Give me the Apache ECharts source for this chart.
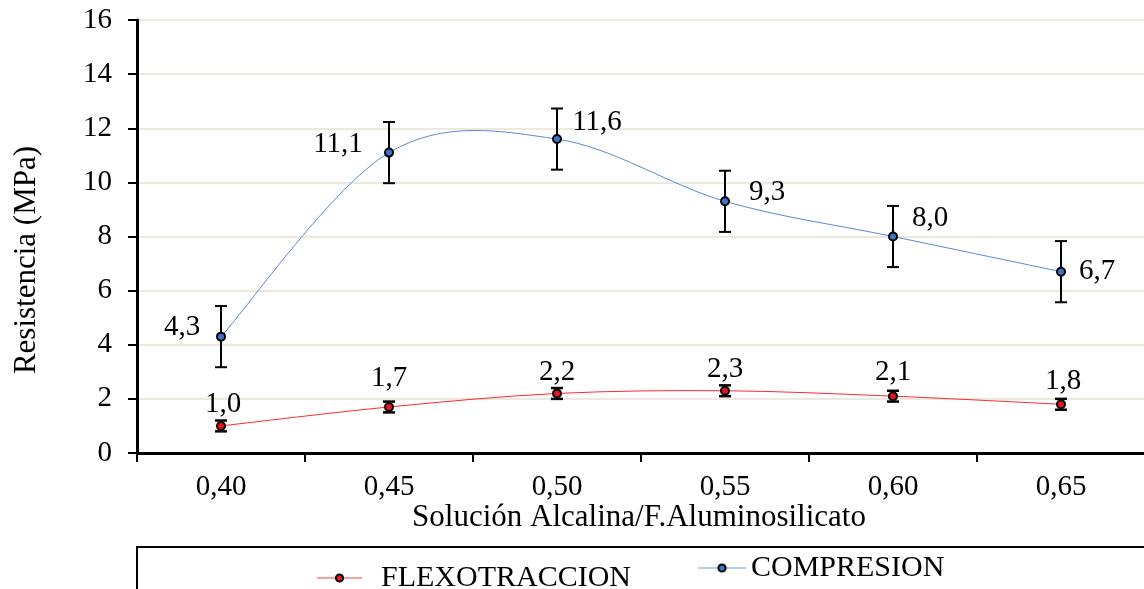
<!DOCTYPE html>
<html>
<head>
<meta charset="utf-8">
<title>Resistencia</title>
<script src="https://cdn.jsdelivr.net/npm/echarts@6/dist/echarts.min.js"></script>
<style>
  html, body { margin: 0; padding: 0; background: #fff; }
  #chart { width: 1144px; height: 589px; }
</style>
</head>
<body>
<div id="chart"></div>
<script>
// datos
var categorias = ['0,40', '0,45', '0,50', '0,55', '0,60', '0,65'];
var compresion = [4.3, 11.1, 11.6, 9.3, 8.0, 6.7];
var compresionErr = [1.13, 1.13, 1.13, 1.13, 1.13, 1.13];
var flexo = [1.0, 1.7, 2.2, 2.3, 2.1, 1.8];
var flexoErr = [0.2, 0.2, 0.2, 0.2, 0.2, 0.2];
var yTicks = [0, 2, 4, 6, 8, 10, 12, 14, 16];

// donde van las etiquetas (px respecto al punto)
var compLabelOffset = [[-39, -9], [-51, -8], [40, -17], [42, -9], [37, -18], [36, 0]];
var flexoLabelOffset = [[2, -22], [0, -29], [0, -21], [0, -21], [0, -24], [2, -23]];

var fuente = "'Liberation Serif', 'Times New Roman', serif";

function fmt(v) { return v.toFixed(1).replace('.', ','); }

function errorBars(vals, errs, lw, half) {
    return {
        type: 'custom',
        z: 1,
        silent: true,
        data: vals.map(function (v, i) { return [i, v, errs[i]]; }),
        encode: { x: 0, y: 1 },
        renderItem: function (params, api) {
            var i = api.value(0), v = api.value(1), e = api.value(2);
            var top = api.coord([i, v + e]);
            var bot = api.coord([i, v - e]);
            var st = { stroke: '#000', lineWidth: lw };
            return {
                type: 'group',
                children: [
                    { type: 'line', shape: { x1: top[0], y1: top[1], x2: bot[0], y2: bot[1] }, style: st },
                    { type: 'line', shape: { x1: top[0] - half, y1: top[1], x2: top[0] + half, y2: top[1] }, style: st },
                    { type: 'line', shape: { x1: bot[0] - half, y1: bot[1], x2: bot[0] + half, y2: bot[1] }, style: st }
                ]
            };
        }
    };
}

// curva suavizada tipo Excel (Catmull-Rom), un tramo por punto
function curva(vals, color) {
    return {
        type: 'custom',
        z: 2,
        silent: true,
        data: vals.map(function (v, i) { return [i, v]; }),
        encode: { x: 0, y: 1 },
        renderItem: function (params, api) {
            var i = params.dataIndex, n = vals.length;
            if (i >= n - 1) return null;
            var p0 = api.coord([Math.max(i - 1, 0), vals[Math.max(i - 1, 0)]]);
            var p1 = api.coord([i, vals[i]]);
            var p2 = api.coord([i + 1, vals[i + 1]]);
            var p3 = api.coord([Math.min(i + 2, n - 1), vals[Math.min(i + 2, n - 1)]]);
            return {
                type: 'bezierCurve',
                shape: {
                    x1: p1[0], y1: p1[1], x2: p2[0], y2: p2[1],
                    cpx1: p1[0] + (p2[0] - p0[0]) / 6, cpy1: p1[1] + (p2[1] - p0[1]) / 6,
                    cpx2: p2[0] - (p3[0] - p1[0]) / 6, cpy2: p2[1] - (p3[1] - p1[1]) / 6
                },
                style: { stroke: color, lineWidth: 1, fill: null }
            };
        }
    };
}

function etiquetas(vals, offs) {
    return vals.map(function (v, i) {
        return { value: v, label: { offset: offs[i] } };
    });
}

var chart = echarts.init(document.getElementById('chart'));

var option = {
    animation: false,
    backgroundColor: '#fff',
    textStyle: { fontFamily: fuente },
    grid: {
        left: 137, top: 20, width: 1008, height: 433,
        outerBoundsMode: 'none',
        show: true, borderColor: '#000', borderWidth: 2
    },
    xAxis: {
        type: 'category',
        data: categorias,
        boundaryGap: true,
        axisLine: { lineStyle: { color: '#000', width: 3 } },
        axisTick: { show: true, length: 9, lineStyle: { color: '#000', width: 2 } },
        axisLabel: { color: '#000', fontSize: 29, fontFamily: fuente, margin: 20 },
        splitLine: { show: false }
    },
    yAxis: {
        type: 'value',
        min: yTicks[0], max: yTicks[yTicks.length - 1], interval: 2,
        axisLine: { show: true, lineStyle: { color: '#000', width: 3 } },
        axisTick: { show: true, length: 9, lineStyle: { color: '#000', width: 2 } },
        axisLabel: { color: '#000', fontSize: 29, fontFamily: fuente, margin: 25 },
        splitLine: { show: true, lineStyle: { color: '#ece9df', width: 2 } }
    },
    legend: [
        {
            data: [{ name: 'FLEXOTRACCION', lineStyle: { color: '#f4a3a3', width: 2, opacity: 1 } }],
            left: 316, top: 563, padding: 0,
            itemWidth: 45, itemHeight: 9,
            textStyle: { color: '#000', fontSize: 30, fontFamily: fuente, padding: [0, 0, 0, 14] }
        },
        {
            data: [{ name: 'COMPRESION', lineStyle: { color: '#b9cbe8', width: 2, opacity: 1 } }],
            left: 697, top: 553, padding: 0,
            itemWidth: 48, itemHeight: 9,
            textStyle: { color: '#000', fontSize: 30, fontFamily: fuente }
        }
    ],
    graphic: [
        {
            type: 'text', x: 27, y: 260, rotation: Math.PI / 2,
            style: { text: 'Resistencia (MPa)', fill: '#000', font: '31px ' + fuente, align: 'center', verticalAlign: 'middle' }
        },
        {
            type: 'text', x: 639, y: 518,
            style: { text: 'Solución Alcalina/F.Aluminosilicato', fill: '#000', font: '31px ' + fuente, align: 'center', verticalAlign: 'middle' }
        },
        {
            type: 'rect', shape: { x: 137, y: 547, width: 1020, height: 60 },
            style: { fill: 'none', stroke: '#000', lineWidth: 2 }
        }
    ],
    series: [
        errorBars(compresion, compresionErr, 2, 6),
        errorBars(flexo, flexoErr, 2.5, 6),
        curva(compresion, '#5b8bd6'),
        curva(flexo, '#ff2b2b'),
        {
            name: 'COMPRESION',
            type: 'line',
            z: 3,
            data: etiquetas(compresion, compLabelOffset),
            symbol: 'circle', symbolSize: 8,
            lineStyle: { color: '#5b8bd6', width: 0, opacity: 0 },
            itemStyle: { color: '#3f74c8', borderColor: '#000', borderWidth: 2 },
            label: {
                show: true, position: 'inside', color: '#000',
                fontSize: 29, fontFamily: fuente,
                formatter: function (p) { return fmt(p.value); }
            }
        },
        {
            name: 'FLEXOTRACCION',
            type: 'line',
            z: 3,
            data: etiquetas(flexo, flexoLabelOffset),
            symbol: 'circle', symbolSize: 8,
            lineStyle: { color: '#ff2b2b', width: 0, opacity: 0 },
            itemStyle: { color: '#e8141b', borderColor: '#000', borderWidth: 2 },
            label: {
                show: true, position: 'inside', color: '#000',
                fontSize: 29, fontFamily: fuente,
                formatter: function (p) { return fmt(p.value); }
            }
        }
    ]
};

chart.setOption(option);
</script>
</body>
</html>
